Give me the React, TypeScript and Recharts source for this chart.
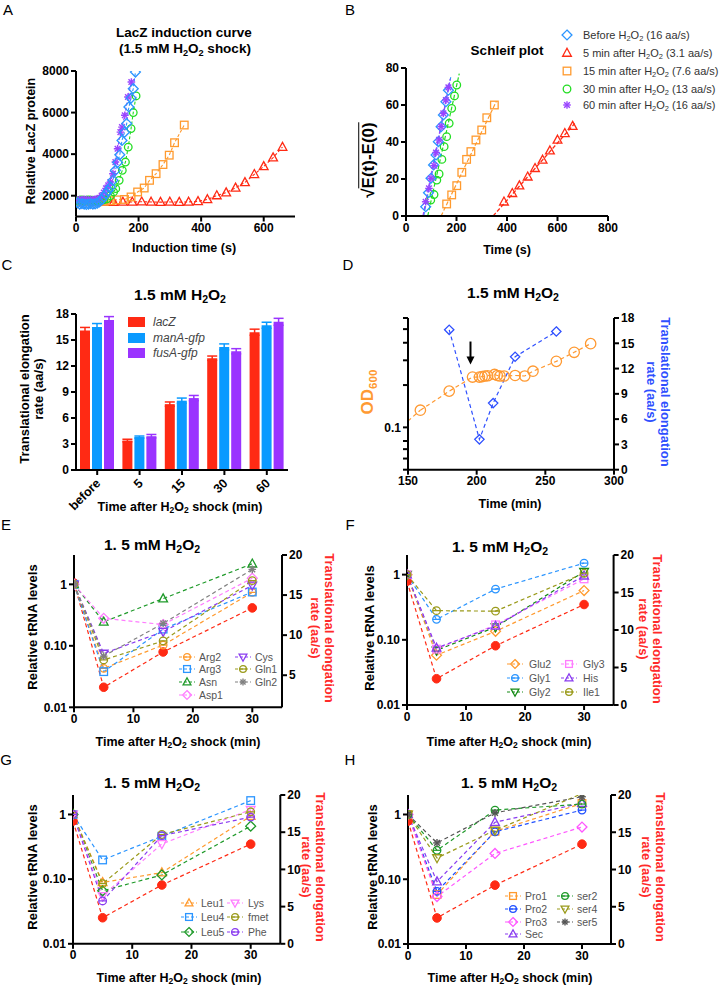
import React from "react";
import {
  ComposedChart,
  BarChart,
  Bar,
  Line,
  XAxis,
  YAxis,
  ErrorBar,
  ReferenceDot,
} from "recharts";

const FONT = '"Liberation Sans", Arial, sans-serif';

// ---------- colours ----------
const RED = "#ff2a14";
const ORANGE = "#ff9a2e";
const BLUE = "#2b95ff";
const GREEN = "#22dd22";
const PURPLE = "#9a44ff";
const DGREEN = "#1f9a2a";
const PINK = "#ff7dff";
const VIOLET = "#8a3cf0";
const OLIVE = "#9a9a1a";
const GREY = "#808080";

// ---------- panel A: LacZ induction ----------
const A_X_TICKS = [0, 200, 400, 600];
const A_Y_TICKS = [2000, 4000, 6000, 8000];
const A_BEFORE_T = [5, 12, 19, 26, 33, 40, 47, 54, 61, 68, 75, 82, 89, 96, 103, 110, 118, 126, 133, 140, 147, 155, 162, 169, 176, 183, 190];
const A_BEFORE_V = [1650, 1600, 1620, 1600, 1580, 1600, 1620, 1600, 1610, 1640, 1700, 1800, 1950, 2100, 2250, 2420, 2740, 3220, 3600, 3970, 4660, 5050, 5470, 6270, 6700, 7150, 7950];
const A_5MIN_T = [10, 30, 50, 70, 90, 120, 150, 180, 210, 240, 270, 300, 330, 360, 390, 420, 450, 480, 510, 540, 570, 600, 630, 660];
const A_5MIN_V = [1700, 1700, 1700, 1700, 1700, 1690, 1700, 1700, 1710, 1700, 1690, 1700, 1690, 1700, 1730, 1820, 2010, 2150, 2380, 2640, 3030, 3410, 3830, 4340];
const A_15MIN_T = [10, 30, 50, 70, 90, 110, 130, 155, 176, 197, 218, 235, 256, 278, 298, 315, 346];
const A_15MIN_V = [1700, 1720, 1700, 1710, 1730, 1760, 1800, 1820, 1940, 2180, 2370, 2740, 3060, 3500, 3950, 4550, 5400];
const A_30MIN_T = [5, 12, 19, 26, 33, 40, 47, 54, 61, 68, 75, 82, 89, 99, 110, 120, 127, 138, 148, 158, 167, 176, 183, 192];
const A_30MIN_V = [1750, 1780, 1800, 1760, 1780, 1800, 1790, 1780, 1760, 1770, 1780, 1790, 1800, 1850, 2000, 2180, 2340, 2740, 3220, 3620, 4340, 5230, 6000, 6800];
const A_60MIN_T = [5, 12, 19, 26, 33, 40, 47, 54, 61, 68, 75, 82, 89, 96, 103, 110, 118, 126, 133, 142, 147, 156, 166, 177];
const A_60MIN_V = [1800, 1820, 1800, 1830, 1810, 1800, 1820, 1800, 1830, 1850, 1900, 2000, 2150, 2350, 2500, 2660, 3060, 3620, 4260, 5060, 5300, 5870, 6750, 7470];

// ---------- panel B: Schleif plot ----------
const B_X_TICKS = [0, 200, 400, 600, 800];
const B_Y_TICKS = [0, 20, 40, 60, 80];
const B_BEFORE_T = [78, 89, 99, 109, 119, 128, 139, 148, 158, 168];
const B_BEFORE_V = [5.0, 12.6, 20.4, 27.6, 33.0, 40.2, 48.3, 54.6, 61.8, 68.0];
const B_5MIN_T = [388, 421, 449, 482, 511, 541, 570, 600, 629, 660];
const B_5MIN_V = [7.7, 12.3, 16.4, 21.2, 25.8, 30.3, 35.3, 41.1, 44.7, 48.6];
const B_15MIN_T = [161, 181, 201, 221, 240, 257, 277, 300, 320, 350];
const B_15MIN_V = [6.5, 11.4, 16.4, 23.6, 30.6, 34.8, 41.1, 46.5, 53.1, 60.0];
const B_30MIN_T = [98, 111, 122, 131, 142, 151, 161, 171, 181, 192, 201];
const B_30MIN_V = [8.6, 11.6, 19.4, 22.7, 30.6, 37.5, 42.9, 50.1, 58.2, 64.9, 70.8];
const B_60MIN_T = [78, 91, 99, 111, 119, 131, 139, 148, 158, 168];
const B_60MIN_V = [7.7, 14.9, 20.4, 27.2, 34.3, 41.1, 48.3, 55.5, 62.7, 69.5];
// fitted lines: [start, end] as [time, value]
const B_FIT_BEFORE = [[70, 0], [177, 75]];
const B_FIT_5MIN = [[345, 0], [668, 50]];
const B_FIT_15MIN = [[139, 0], [358, 62]];
const B_FIT_30MIN = [[86, 0], [211, 77]];
const B_FIT_60MIN = [[67, 0], [175, 74]];
const B_LABELS = [
  ["Before ", " (16 aa/s)"],
  ["5 min after ", " (3.1 aa/s)"],
  ["15 min after ", " (7.6 aa/s)"],
  ["30 min after ", " (13 aa/s)"],
  ["60 min after ", " (16 aa/s)"],
];

// ---------- panel C: bars ----------
const C_CATS = ["before", "5", "15", "30", "60"];
const C_Y_TICKS = [0, 3, 6, 9, 12, 15, 18];
const C_LACZ = [16.1, 3.4, 7.6, 12.9, 15.9];
const C_LACZ_ERR = [0.35, 0.15, 0.25, 0.25, 0.35];
const C_MANA = [16.5, 3.8, 8.0, 14.2, 16.7];
const C_MANA_ERR = [0.4, 0.12, 0.3, 0.35, 0.35];
const C_FUSA = [17.3, 3.9, 8.3, 13.7, 17.1];
const C_FUSA_ERR = [0.4, 0.2, 0.3, 0.3, 0.4];
const C_LEGEND = ["lacZ", "manA-gfp", "fusA-gfp"];

// ---------- panel D: OD and rate ----------
const D_X_TICKS = [150, 200, 250, 300];
const D_OD_TICKS = [0.05, 0.06, 0.07, 0.08, 0.09, 0.1, 0.2, 0.3, 0.4, 0.5, 0.6];
const D_RATE_TICKS = [0, 3, 6, 9, 12, 15, 18];
const D_OD_T = [159, 180, 197, 202, 204, 206, 208, 213, 215, 217, 220, 228, 235, 241, 258, 271, 283];
const D_OD_V = [0.1325, 0.181, 0.228, 0.228, 0.23, 0.232, 0.233, 0.238, 0.234, 0.232, 0.232, 0.234, 0.232, 0.251, 0.295, 0.342, 0.394];
const D_OD_LEAD = [[150, 0.111], [159, 0.1325]];
const D_RATE_T = [180, 202, 212, 228, 258];
const D_RATE_V = [16.6, 3.6, 7.9, 13.4, 16.4];
const D_SHOCK_T = 195.5;
const D_SHOCK_OD = 0.28;

// ---------- panels E-H: tRNA ----------
const TRNA_T = [0, 5, 15, 30];
const TRNA_X_TICKS = [0, 10, 20, 30];
const TRNA_LOG_TICKS = [0.01, 0.1, 1];
const RATE_V = [16.5, 3.5, 7.9, 13.4];

const E_ARG2 = [1, 0.043, 0.103, 0.74];
const E_ARG3 = [1, 0.038, 0.187, 0.75];
const E_ASN = [1, 0.245, 0.586, 2.16];
const E_ASP1 = [1, 0.28, 0.222, 1.26];
const E_CYS = [1, 0.075, 0.17, 0.96];
const E_GLN1 = [1, 0.059, 0.12, 1.15];
const E_GLN2 = [1, 0.068, 0.231, 1.75];

const F_GLU2 = [1, 0.058, 0.135, 0.57];
const F_GLY1 = [1, 0.206, 0.6, 1.5];
const F_GLY2 = [1, 0.069, 0.157, 1.11];
const F_GLY3 = [1, 0.072, 0.17, 0.86];
const F_HIS = [1, 0.075, 0.163, 0.96];
const F_ILE1 = [1, 0.28, 0.275, 1.05];

const G_LEU1 = [1, 0.089, 0.126, 0.94];
const G_LEU4 = [1, 0.198, 0.46, 1.64];
const G_LEU5 = [1, 0.066, 0.116, 0.66];
const G_LYS = [1, 0.055, 0.35, 1.19];
const G_FMET = [1, 0.085, 0.49, 1.1];
const G_PHE = [1, 0.046, 0.47, 0.91];

const H_PRO1 = [1, 0.058, 0.55, 1.48];
const H_PRO2 = [1, 0.065, 0.54, 1.17];
const H_PRO3 = [1, 0.054, 0.25, 0.64];
const H_SEC = [1, 0.092, 0.76, 1.5];
const H_SER2 = [1, 0.28, 1.17, 1.45];
const H_SER4 = [1, 0.213, 0.57, 2.1];
const H_SER5 = [1, 0.364, 1.06, 1.88];

type Shape = "circle" | "dot" | "square" | "diamond" | "triangle" | "tridown" | "star" | "circline";
type Ser = { name: string; color: string; shape: Shape; values: number[] };

const E_SERIES: Ser[] = [
  { name: "Arg2", color: ORANGE, shape: "circline", values: E_ARG2 },
  { name: "Arg3", color: BLUE, shape: "square", values: E_ARG3 },
  { name: "Asn", color: DGREEN, shape: "triangle", values: E_ASN },
  { name: "Asp1", color: PINK, shape: "diamond", values: E_ASP1 },
  { name: "Cys", color: VIOLET, shape: "tridown", values: E_CYS },
  { name: "Gln1", color: OLIVE, shape: "circline", values: E_GLN1 },
  { name: "Gln2", color: GREY, shape: "star", values: E_GLN2 },
];
const F_SERIES: Ser[] = [
  { name: "Glu2", color: ORANGE, shape: "diamond", values: F_GLU2 },
  { name: "Gly1", color: BLUE, shape: "circline", values: F_GLY1 },
  { name: "Gly2", color: "#158a15", shape: "tridown", values: F_GLY2 },
  { name: "Gly3", color: PINK, shape: "square", values: F_GLY3 },
  { name: "His", color: VIOLET, shape: "triangle", values: F_HIS },
  { name: "Ile1", color: OLIVE, shape: "circline", values: F_ILE1 },
];
const G_SERIES: Ser[] = [
  { name: "Leu1", color: ORANGE, shape: "triangle", values: G_LEU1 },
  { name: "Leu4", color: BLUE, shape: "square", values: G_LEU4 },
  { name: "Leu5", color: DGREEN, shape: "diamond", values: G_LEU5 },
  { name: "Lys", color: PINK, shape: "tridown", values: G_LYS },
  { name: "fmet", color: OLIVE, shape: "circline", values: G_FMET },
  { name: "Phe", color: VIOLET, shape: "circline", values: G_PHE },
];
const H_SERIES: Ser[] = [
  { name: "Pro1", color: ORANGE, shape: "square", values: H_PRO1 },
  { name: "Pro2", color: "#1f4fff", shape: "circline", values: H_PRO2 },
  { name: "Pro3", color: "#ff55ff", shape: "diamond", values: H_PRO3 },
  { name: "Sec", color: VIOLET, shape: "triangle", values: H_SEC },
  { name: "ser2", color: DGREEN, shape: "circline", values: H_SER2 },
  { name: "ser4", color: OLIVE, shape: "tridown", values: H_SER4 },
  { name: "ser5", color: "#555555", shape: "star", values: H_SER5 },
];

// ---------- helpers ----------
const pairs = (ts: number[], vs: number[]) => ts.map((t, i) => ({ t, v: vs[i] }));
const fitPts = (f: number[][]) => f.map(([t, v]) => ({ t, v }));

const LW = 45;
const RW = 35;
const XH = 30;
const MT = 12;

function box(x0: number, y0: number, x1: number, y1: number, right: boolean) {
  const mr = right ? 4 : 14;
  return {
    left: x0 - LW,
    top: y0 - MT,
    width: x1 - x0 + LW + (right ? RW : 0) + mr,
    height: y1 - y0 + MT + XH + 4,
    margin: { top: MT, right: mr, bottom: 4, left: 0 },
  };
}

const axisLine = { stroke: "#000", strokeWidth: 2 };
const tickLine = { stroke: "#000", strokeWidth: 2 };
const tickStyle = { fill: "#000", fontSize: 12, fontWeight: 700 };

function Mark({ shape, x, y, s, color }: { shape: Shape; x: number; y: number; s: number; color: string }) {
  const st = { stroke: color, strokeWidth: 1.3, fill: "none" };
  switch (shape) {
    case "dot":
      return <circle cx={x} cy={y} r={s} fill={color} stroke={color} />;
    case "circle":
      return <circle cx={x} cy={y} r={s} {...st} />;
    case "circline":
      return (
        <g>
          <circle cx={x} cy={y} r={s} {...st} />
          <line x1={x - s} y1={y} x2={x + s} y2={y} stroke={color} strokeWidth={1.2} />
        </g>
      );
    case "square":
      return <rect x={x - s} y={y - s} width={2 * s} height={2 * s} {...st} />;
    case "diamond": {
      const d = s * 1.3;
      return <polygon points={`${x},${y - d} ${x + d},${y} ${x},${y + d} ${x - d},${y}`} {...st} />;
    }
    case "triangle":
      return <polygon points={`${x},${y - s * 1.25} ${x + s * 1.15},${y + s * 0.85} ${x - s * 1.15},${y + s * 0.85}`} {...st} />;
    case "tridown":
      return <polygon points={`${x},${y + s * 1.25} ${x + s * 1.15},${y - s * 0.85} ${x - s * 1.15},${y - s * 0.85}`} {...st} />;
    case "star": {
      const d = s * 0.75;
      return (
        <g stroke={color} strokeWidth={1.4}>
          <line x1={x} y1={y - s} x2={x} y2={y + s} />
          <line x1={x - s} y1={y} x2={x + s} y2={y} />
          <line x1={x - d} y1={y - d} x2={x + d} y2={y + d} />
          <line x1={x - d} y1={y + d} x2={x + d} y2={y - d} />
        </g>
      );
    }
  }
  return null;
}

const dotOf = (shape: Shape, color: string, s: number) => (p: any) => {
  if (p.cx == null || p.cy == null || isNaN(p.cx) || isNaN(p.cy)) return <g key={p.index} />;
  return (
    <g key={p.index}>
      <Mark shape={shape} x={p.cx} y={p.cy} s={s} color={color} />
    </g>
  );
};

function Txt({ x, y, rot = 0, size = 12.5, weight = 700, color = "#000", lh = 1.15, style, children }: any) {
  return (
    <div
      style={{
        position: "absolute",
        left: x,
        top: y,
        transform: `translate(-50%, -50%) rotate(${rot}deg)`,
        fontSize: size,
        fontWeight: weight,
        color,
        whiteSpace: "nowrap",
        lineHeight: lh,
        textAlign: "center",
        ...style,
      }}
    >
      {children}
    </div>
  );
}

const H2O2 = () => (
  <>
    H<span style={{ fontSize: "0.68em", verticalAlign: "-0.3em", lineHeight: 0 }}>2</span>O
    <span style={{ fontSize: "0.68em", verticalAlign: "-0.3em", lineHeight: 0 }}>2</span>
  </>
);

const Letter = ({ x, y, children }: any) => (
  <Txt x={x} y={y} size={15} weight={400}>
    {children}
  </Txt>
);

// ---------- panel A ----------
function PanelA() {
  const b = box(76, 70.5, 295, 216, false);
  const series = [
    { d: pairs(A_5MIN_T, A_5MIN_V), c: RED, s: "triangle" as Shape },
    { d: pairs(A_15MIN_T, A_15MIN_V), c: ORANGE, s: "square" as Shape },
    { d: pairs(A_30MIN_T, A_30MIN_V), c: GREEN, s: "circle" as Shape },
    { d: pairs(A_60MIN_T, A_60MIN_V), c: PURPLE, s: "star" as Shape },
    { d: pairs(A_BEFORE_T, A_BEFORE_V), c: BLUE, s: "diamond" as Shape },
  ];
  return (
    <>
      <div style={{ position: "absolute", left: b.left, top: b.top }}>
        <ComposedChart width={b.width} height={b.height} margin={b.margin}>
          <XAxis type="number" dataKey="t" domain={[0, 700]} ticks={A_X_TICKS} height={XH}
            axisLine={axisLine} tickLine={tickLine} tick={tickStyle} tickSize={5} allowDataOverflow />
          <YAxis type="number" domain={[1000, 8000]} ticks={A_Y_TICKS} width={LW}
            axisLine={axisLine} tickLine={tickLine} tick={tickStyle} tickSize={5} allowDataOverflow />
          {series.map((s, i) => (
            <Line key={i} data={s.d} dataKey="v" type="linear" stroke={s.c} strokeWidth={1.1}
              strokeDasharray="3 2" dot={dotOf(s.s, s.c, 3.8)} activeDot={false} isAnimationActive={false} />
          ))}
        </ComposedChart>
      </div>
      <Letter x={8} y={10}>A</Letter>
      <Txt x={184} y={33} size={13.5}>LacZ induction curve</Txt>
      <Txt x={185} y={48.5} size={13.5}>(1.5 mM <H2O2 /> shock)</Txt>
      <Txt x={31} y={141} rot={-90}>Relative LacZ protein</Txt>
      <Txt x={184} y={248}>Induction time (s)</Txt>
    </>
  );
}

// ---------- panel B ----------
function PanelB() {
  const b = box(406, 68, 608, 216, false);
  const pts = [
    { d: pairs(B_5MIN_T, B_5MIN_V), f: B_FIT_5MIN, c: RED, s: "triangle" as Shape },
    { d: pairs(B_15MIN_T, B_15MIN_V), f: B_FIT_15MIN, c: ORANGE, s: "square" as Shape },
    { d: pairs(B_30MIN_T, B_30MIN_V), f: B_FIT_30MIN, c: GREEN, s: "circle" as Shape },
    { d: pairs(B_BEFORE_T, B_BEFORE_V), f: B_FIT_BEFORE, c: BLUE, s: "diamond" as Shape },
    { d: pairs(B_60MIN_T, B_60MIN_V), f: B_FIT_60MIN, c: PURPLE, s: "star" as Shape },
  ];
  const legend: { c: string; s: Shape }[] = [
    { c: BLUE, s: "diamond" },
    { c: RED, s: "triangle" },
    { c: ORANGE, s: "square" },
    { c: GREEN, s: "circle" },
    { c: PURPLE, s: "star" },
  ];
  const rows = [35, 53, 71, 89, 105];
  return (
    <>
      <div style={{ position: "absolute", left: b.left, top: b.top }}>
        <ComposedChart width={b.width} height={b.height} margin={b.margin}>
          <XAxis type="number" dataKey="t" domain={[0, 800]} ticks={B_X_TICKS} height={XH}
            axisLine={axisLine} tickLine={tickLine} tick={tickStyle} tickSize={5} allowDataOverflow />
          <YAxis type="number" domain={[0, 80]} ticks={B_Y_TICKS} width={LW}
            axisLine={axisLine} tickLine={tickLine} tick={tickStyle} tickSize={5} allowDataOverflow />
          {pts.map((s, i) => (
            <Line key={"f" + i} data={fitPts(s.f)} dataKey="v" type="linear" stroke={s.c} strokeWidth={1.2}
              strokeDasharray="4 2" dot={false} activeDot={false} isAnimationActive={false} />
          ))}
          {pts.map((s, i) => (
            <Line key={"p" + i} data={s.d} dataKey="v" type="linear" stroke="none"
              dot={dotOf(s.s, s.c, 3.8)} activeDot={false} isAnimationActive={false} />
          ))}
        </ComposedChart>
      </div>
      <Letter x={350} y={10}>B</Letter>
      <Txt x={507} y={51} size={13.5}>Schleif plot</Txt>
      {legend.map((l, i) => (
        <React.Fragment key={i}>
          <svg style={{ position: "absolute", left: 561, top: rows[i] - 6 }} width={12} height={12}>
            <Mark shape={l.s} x={6} y={6} s={3.8} color={l.c} />
          </svg>
          <div style={{ position: "absolute", left: 583, top: rows[i], transform: "translateY(-50%)", fontSize: 11, color: "#333", whiteSpace: "nowrap" }}>
            {B_LABELS[i][0]}
            <H2O2 />
            {B_LABELS[i][1]}
          </div>
        </React.Fragment>
      ))}
      <Txt x={369} y={160} rot={-90} size={17}>
        √<span style={{ textDecoration: "overline" }}>E(t)-E(0)</span>
      </Txt>
      <Txt x={507} y={250}>Time (s)</Txt>
    </>
  );
}

// ---------- panel C ----------
const AngledTick = (p: any) => {
  const x = p.x + 4;
  const y = p.y + 7;
  return (
    <text x={x} y={y} transform={`rotate(-45 ${x} ${y})`} textAnchor="end" fontSize={12.5} fontWeight={700} fill="#000">
      {p.payload.value}
    </text>
  );
};

function PanelC() {
  const b = box(76, 314, 288, 470, false);
  const rows = C_CATS.map((cat, i) => ({
    cat,
    lacZ: C_LACZ[i],
    lacZErr: C_LACZ_ERR[i],
    manA: C_MANA[i],
    manAErr: C_MANA_ERR[i],
    fusA: C_FUSA[i],
    fusAErr: C_FUSA_ERR[i],
  }));
  const cols = [RED, "#0a9aff", "#9a33ff"];
  const legY = [322, 337.5, 353];
  return (
    <>
      <div style={{ position: "absolute", left: b.left, top: b.top }}>
        <BarChart width={b.width} height={b.height} margin={b.margin} data={rows} barSize={10} barGap={2}>
          <XAxis dataKey="cat" height={XH} axisLine={axisLine} tickLine={tickLine} tickSize={5}
            tick={<AngledTick />} interval={0} />
          <YAxis type="number" domain={[0, 18]} ticks={C_Y_TICKS} width={LW}
            axisLine={axisLine} tickLine={tickLine} tick={tickStyle} tickSize={5} />
          <Bar dataKey="lacZ" fill={cols[0]} isAnimationActive={false}>
            <ErrorBar dataKey="lacZErr" width={5} stroke={cols[0]} strokeWidth={1.5} />
          </Bar>
          <Bar dataKey="manA" fill={cols[1]} isAnimationActive={false}>
            <ErrorBar dataKey="manAErr" width={5} stroke={cols[1]} strokeWidth={1.5} />
          </Bar>
          <Bar dataKey="fusA" fill={cols[2]} isAnimationActive={false}>
            <ErrorBar dataKey="fusAErr" width={5} stroke={cols[2]} strokeWidth={1.5} />
          </Bar>
        </BarChart>
      </div>
      {C_LEGEND.map((name, i) => (
        <React.Fragment key={name}>
          <div style={{ position: "absolute", left: 128, top: legY[i] - 5, width: 17, height: 10, background: cols[i] }} />
          <div style={{ position: "absolute", left: 153, top: legY[i], transform: "translateY(-50%)", fontSize: 12, fontStyle: "italic", color: "#444", whiteSpace: "nowrap" }}>
            {name}
          </div>
        </React.Fragment>
      ))}
      <Letter x={7} y={265}>C</Letter>
      <Txt x={180} y={295} size={15.5}>1.5 mM <H2O2 /></Txt>
      <Txt x={32} y={389} rot={-90} size={13} lh={1.05}>
        Translational elongation
        <br />
        rate (aa/s)
      </Txt>
      <Txt x={180} y={507}>Time after <H2O2 /> shock (min)</Txt>
    </>
  );
}

// ---------- panel D ----------
const arrowShape = (p: any) => (
  <g>
    <line x1={p.cx} y1={p.cy - 23} x2={p.cx} y2={p.cy - 7} stroke="#000" strokeWidth={2} />
    <polygon points={`${p.cx - 4},${p.cy - 8} ${p.cx + 4},${p.cy - 8} ${p.cx},${p.cy}`} fill="#000" />
  </g>
);

function PanelD() {
  const b = box(408, 318.3, 614, 470, true);
  const odOrange = "#ff9a33";
  const rateBlue = "#2f50ff";
  return (
    <>
      <div style={{ position: "absolute", left: b.left, top: b.top }}>
        <ComposedChart width={b.width} height={b.height} margin={b.margin}>
          <XAxis type="number" dataKey="t" domain={[150, 300]} ticks={D_X_TICKS} height={XH}
            axisLine={axisLine} tickLine={tickLine} tick={tickStyle} tickSize={5} allowDataOverflow />
          <YAxis yAxisId="od" type="number" scale="log" domain={[0.05, 0.6]} ticks={D_OD_TICKS} width={LW}
            tickFormatter={(v: number) => (v === 0.1 ? "0.1" : "")}
            axisLine={axisLine} tickLine={tickLine} tick={tickStyle} tickSize={5} allowDataOverflow />
          <YAxis yAxisId="rate" orientation="right" type="number" domain={[0, 18]} ticks={D_RATE_TICKS} width={RW}
            axisLine={axisLine} tickLine={tickLine} tick={tickStyle} tickSize={5} allowDataOverflow />
          <Line yAxisId="od" data={fitPts(D_OD_LEAD)} dataKey="v" type="linear" stroke={odOrange} strokeWidth={1.2}
            strokeDasharray="4 3" dot={false} activeDot={false} isAnimationActive={false} />
          <Line yAxisId="od" data={pairs(D_OD_T, D_OD_V)} dataKey="v" type="linear" stroke={odOrange} strokeWidth={1.2}
            strokeDasharray="4 3" dot={dotOf("circle", odOrange, 5.2)} activeDot={false} isAnimationActive={false} />
          <Line yAxisId="rate" data={pairs(D_RATE_T, D_RATE_V)} dataKey="v" type="linear" stroke={rateBlue} strokeWidth={1.2}
            strokeDasharray="4 3" dot={dotOf("diamond", rateBlue, 3.6)} activeDot={false} isAnimationActive={false} />
          <ReferenceDot yAxisId="od" x={D_SHOCK_T} y={D_SHOCK_OD} shape={arrowShape} />
        </ComposedChart>
      </div>
      <Letter x={348} y={265}>D</Letter>
      <Txt x={513} y={293} size={15.5}>1.5 mM <H2O2 /></Txt>
      <Txt x={368} y={392} rot={-90} size={17} color={odOrange}>
        OD<span style={{ fontSize: "0.68em", verticalAlign: "-0.3em", lineHeight: 0 }}>600</span>
      </Txt>
      <Txt x={657.5} y={392} rot={90} size={13} lh={1.1} color={rateBlue}>
        Translational elongation
        <br />
        rate (aa/s)
      </Txt>
      <Txt x={510} y={504}>Time (min)</Txt>
    </>
  );
}

// ---------- panels E-H ----------
type Col = { cx: number; tx: number; ys: number[]; names: string[] };

function TrnaPanel(props: {
  x0: number; y0: number; x1: number; y1: number;
  leftDomain: number[]; rightDomain: number[]; rightTicks: number[];
  series: Ser[]; cols: Col[];
  letter: string; lx: number; ly: number;
  tx: number; ty: number; ylx: number; yly: number; rlx: number; rly: number; xlx: number; xly: number;
}) {
  const p = props;
  const b = box(p.x0, p.y0, p.x1, p.y1, true);
  const rows = TRNA_T.map((t, i) => {
    const r: any = { t, rate: RATE_V[i] };
    p.series.forEach((s) => (r[s.name] = s.values[i]));
    return r;
  });
  const byName: Record<string, Ser> = {};
  p.series.forEach((s) => (byName[s.name] = s));
  return (
    <>
      <div style={{ position: "absolute", left: b.left, top: b.top }}>
        <ComposedChart width={b.width} height={b.height} margin={b.margin} data={rows}>
          <XAxis type="number" dataKey="t" domain={[0, 35]} ticks={TRNA_X_TICKS} height={XH}
            axisLine={axisLine} tickLine={tickLine} tick={tickStyle} tickSize={5} allowDataOverflow />
          <YAxis yAxisId="l" type="number" scale="log" domain={p.leftDomain} ticks={TRNA_LOG_TICKS} width={LW}
            tickFormatter={(v: number) => (v === 1 ? "1" : v === 0.1 ? "0.10" : "0.01")}
            axisLine={axisLine} tickLine={tickLine} tick={tickStyle} tickSize={5} allowDataOverflow />
          <YAxis yAxisId="r" orientation="right" type="number" domain={p.rightDomain} ticks={p.rightTicks} width={RW}
            axisLine={axisLine} tickLine={tickLine} tick={tickStyle} tickSize={5} allowDataOverflow />
          <Line yAxisId="r" dataKey="rate" type="linear" stroke={RED} strokeWidth={1.2} strokeDasharray="4 3"
            dot={dotOf("dot", RED, 4.3)} activeDot={false} isAnimationActive={false} />
          {p.series.map((s) => (
            <Line key={s.name} yAxisId="l" dataKey={s.name} type="linear" stroke={s.color} strokeWidth={1.2}
              strokeDasharray="4 3" dot={dotOf(s.shape, s.color, 3.8)} activeDot={false} isAnimationActive={false} />
          ))}
        </ComposedChart>
      </div>
      {p.cols.map((c, ci) =>
        c.names.map((n, i) => {
          const s = byName[n];
          return (
            <React.Fragment key={ci + n}>
              <svg style={{ position: "absolute", left: c.cx - 9, top: c.ys[i] - 6 }} width={18} height={12}>
                <line x1={1} y1={6} x2={17} y2={6} stroke={s.color} strokeWidth={1.2} strokeDasharray="3 2" />
                <Mark shape={s.shape} x={9} y={6} s={3.4} color={s.color} />
              </svg>
              <div style={{ position: "absolute", left: c.tx, top: c.ys[i], transform: "translateY(-50%)", fontSize: 10.5, color: "#555", whiteSpace: "nowrap" }}>
                {n}
              </div>
            </React.Fragment>
          );
        })
      )}
      <Letter x={p.lx} y={p.ly}>{p.letter}</Letter>
      <Txt x={p.tx} y={p.ty} size={15.5}>1. 5 mM <H2O2 /></Txt>
      <Txt x={p.ylx} y={p.yly} rot={-90} size={13}>Relative tRNA levels</Txt>
      <Txt x={p.rlx} y={p.rly} rot={90} size={13} lh={1.1} color="#ff2a2a">
        Translational elongation
        <br />
        rate (aa/s)
      </Txt>
      <Txt x={p.xlx} y={p.xly}>Time after <H2O2 /> shock (min)</Txt>
    </>
  );
}

export default function App() {
  return (
    <div style={{ position: "absolute", left: 0, top: 0, width: 719, height: 988, background: "#fff", fontFamily: FONT, color: "#000", overflow: "hidden" }}>
      <style>{`.recharts-surface{overflow:visible}`}</style>
      <PanelA />
      <PanelB />
      <PanelC />
      <PanelD />
      <TrnaPanel x0={74} y0={555} x1={282} y1={707.3} leftDomain={[0.01, 3]} rightDomain={[1, 20]} rightTicks={[5, 10, 15, 20]}
        series={E_SERIES}
        cols={[
          { cx: 187, tx: 199, ys: [656.7, 669.3, 681.7, 695], names: ["Arg2", "Arg3", "Asn", "Asp1"] },
          { cx: 243, tx: 255, ys: [656.7, 669.3, 681.7], names: ["Cys", "Gln1", "Gln2"] },
        ]}
        letter="E" lx={6} ly={525} tx={152} ty={545} ylx={33} yly={627} rlx={321.5} rly={628} xlx={178} xly={742} />
      <TrnaPanel x0={406.7} y0={555} x1={613.3} y1={705} leftDomain={[0.01, 2]} rightDomain={[0, 20]} rightTicks={[0, 5, 10, 15, 20]}
        series={F_SERIES}
        cols={[
          { cx: 515, tx: 529, ys: [664.3, 677.7, 691.7], names: ["Glu2", "Gly1", "Gly2"] },
          { cx: 569, tx: 583, ys: [664.3, 677.7, 691.7], names: ["Gly3", "His", "Ile1"] },
        ]}
        letter="F" lx={350} ly={525} tx={500} ty={547} ylx={370} yly={628} rlx={649.5} rly={629} xlx={509} xly={742} />
      <TrnaPanel x0={72.7} y0={794.5} x1={280} y1={943.3} leftDomain={[0.01, 2]} rightDomain={[0, 20]} rightTicks={[0, 5, 10, 15, 20]}
        series={G_SERIES}
        cols={[
          { cx: 189, tx: 201, ys: [903.3, 917.3, 931.7], names: ["Leu1", "Leu4", "Leu5"] },
          { cx: 235, tx: 248, ys: [903.3, 917.3, 931.7], names: ["Lys", "fmet", "Phe"] },
        ]}
        letter="G" lx={6} ly={760} tx={152} ty={783} ylx={33} yly={867} rlx={313} rly={867} xlx={179} xly={978} />
      <TrnaPanel x0={407.7} y0={795} x1={610.7} y1={944} leftDomain={[0.01, 2]} rightDomain={[0, 20]} rightTicks={[0, 5, 10, 15, 20]}
        series={H_SERIES}
        cols={[
          { cx: 513, tx: 525, ys: [895.7, 909, 921.7, 934], names: ["Pro1", "Pro2", "Pro3", "Sec"] },
          { cx: 565, tx: 577, ys: [895.7, 909, 921.7], names: ["ser2", "ser4", "ser5"] },
        ]}
        letter="H" lx={350} ly={760} tx={509} ty={783} ylx={373} yly={867} rlx={652.5} rly={867} xlx={510} xly={978} />
    </div>
  );
}
